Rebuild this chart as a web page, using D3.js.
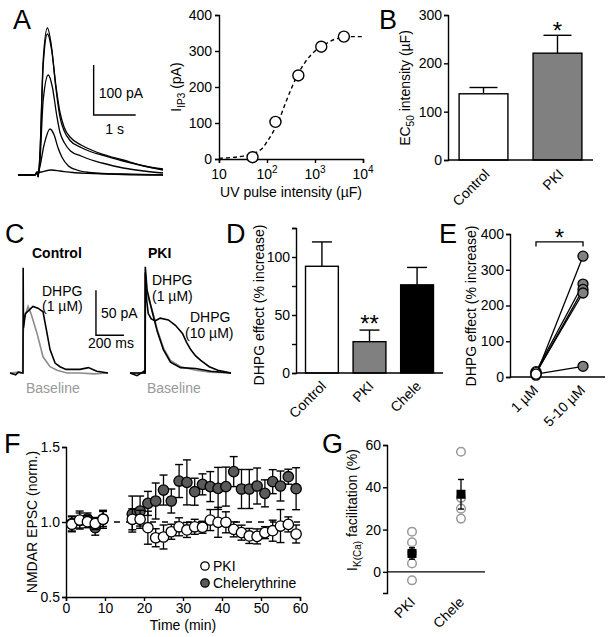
<!DOCTYPE html>
<html><head><meta charset="utf-8">
<script src="https://cdn.jsdelivr.net/npm/d3@7"></script>
<style>body{margin:0;background:#fff}</style>
</head><body><svg id="fig" width="612" height="637"></svg>
<script>
// ---------- DATA ----------
// Panel A: example IP3 currents [time s, current pA]
const traceA1 = [[0,0],[0.4,0],[0.45,6],[0.48,-4],[0.52,40],[0.6,230],[0.7,294],[0.8,255],[0.9,175],[1.0,115],[1.1,88],[1.25,68],[1.5,55],[1.75,46],[2.0,40],[2.5,28],[3.0,18],[3.45,10]];
const traceA2 = [[0,0],[0.4,0],[0.45,5],[0.48,-3],[0.52,35],[0.6,220],[0.7,282],[0.8,250],[0.9,180],[1.0,125],[1.1,95],[1.25,75],[1.5,60],[1.75,50],[2.0,42],[2.5,30],[3.0,18],[3.45,12]];
const traceA3 = [[0,0],[0.4,0],[0.45,5],[0.48,-3],[0.52,25],[0.6,150],[0.72,200],[0.82,175],[0.92,120],[1.0,85],[1.1,65],[1.25,48],[1.5,38],[1.75,30],[2.0,24],[2.5,14],[3.0,8],[3.45,4]];
const traceA4 = [[0,0],[0.4,0],[0.45,4],[0.5,10],[0.62,60],[0.76,92],[0.86,80],[0.95,55],[1.05,35],[1.2,18],[1.4,10],[1.7,5],[2.0,3],[2.5,2],[3.45,0]];
const traceA5 = [[0,0],[0.4,0],[0.45,4],[0.55,6],[0.8,10],[1.0,8],[1.3,5],[1.8,3],[2.5,1],[3.45,0]];
// Panel A: dose-response
const doseUV = [50,150,450,1350,4000];
const doseI = [5,103,232,312,340];
const fitUV = [10,18,32,56,80,100,130,180,250,320,450,630,1000,1600,2500,4000,6300,10000];
const fitI = [2,4,8,17,30,48,72,110,160,195,238,270,300,318,332,338,340,340];
// Panel B
const bCats = ["Control","PKI"];
const bMeans = [137,221];
const bErr = [13,37];
// Panel C traces [ms, pA]
const cCtrlBase = [[0,0],[60,1],[90,0],[93,40],[100,60],[129,74],[150,66],[193,44],[236,18],[286,7],[336,3],[407,0],[500,0],[600,-1],[700,0]];
const cCtrlDhpg = [[0,0],[40,-2],[60,1],[90,0],[93,0],[94,117],[96,50],[110,66],[164,74],[200,72],[236,68],[286,26],[322,11],[357,7],[400,4],[500,4],[560,6],[620,2],[700,0]];
const cPkiBase = [[0,0],[100,0],[107,0],[110,92],[157,70],[193,48],[236,28],[286,14],[357,7],[464,3],[571,1],[714,0]];
const cPkiD1 = [[0,0],[50,-3],[100,2],[107,0],[108,118],[121,92],[157,68],[193,46],[236,26],[286,12],[357,6],[464,5],[571,2],[714,0]];
const cPkiD10 = [[0,0],[100,0],[107,0],[108,112],[115,85],[129,66],[150,60],[179,58],[214,61],[271,59],[321,53],[371,44],[400,34],[429,26],[464,19],[500,14],[560,7],[621,3],[714,0]];
// Panel D
const dCats = ["Control","PKI","Chele"];
const dMeans = [92,27,76];
const dErr = [21,10,15];
// Panel E
const eCats = ["1 \u00b5M","5-10 \u00b5M"];
const eLow = [5,15,10,12,8];
const eHigh = [338,260,245,235,30];
// Panel F
const fTime = [1.5,3.5,5.5,7.5,9.5,17,19,21,23,25,27,29,31,33,35,37,39,41,43,45,47,49,51,53,55,57,59];
const pkiMean = [0.985,1.013,1.002,0.99,1.018,1.018,1.018,0.962,0.895,0.90,0.935,0.968,0.947,0.968,0.965,1.013,0.998,0.998,0.951,0.929,0.907,0.904,0.929,0.942,0.973,0.984,0.92];
const pkiErr = [0.05,0.06,0.04,0.04,0.06,0.07,0.06,0.11,0.06,0.08,0.05,0.06,0.05,0.05,0.04,0.07,0.1,0.07,0.05,0.05,0.05,0.05,0.04,0.07,0.11,0.05,0.06];
const cheMean = [0.99,1.01,1.02,0.962,1.02,1.053,1.073,1.124,1.14,1.213,1.14,1.273,1.264,1.202,1.251,1.236,1.224,1.236,1.336,1.22,1.22,1.24,1.191,1.269,1.24,1.302,1.222];
const cheErr = [0.05,0.05,0.04,0.05,0.05,0.12,0.1,0.08,0.12,0.1,0.08,0.11,0.15,0.09,0.07,0.1,0.14,0.13,0.1,0.13,0.13,0.12,0.09,0.08,0.1,0.05,0.14];
// Panel G
const gCats = ["PKI","Chele"];
const gPKI = [19,14,9,4,-4];
const gChele = [56.8,35,29.9,25.2];
const gMean = [8.7,36.7];
const gErr = [2.7,7];

// ---------- DRAW ----------
const svg = d3.select("#fig");
const FF = '"Liberation Sans", Arial, Helvetica, sans-serif';
const FS = 14, SW = 1.4;
svg.attr("font-family", FF);

function styleAxis(g){
  g.attr("font-family", FF).attr("font-size", FS);
  g.selectAll(".domain").attr("stroke","#000").attr("stroke-width",SW);
  g.selectAll(".tick line").attr("stroke","#000").attr("stroke-width",SW);
  g.selectAll(".tick text").attr("fill","#000");
  return g;
}
function panelLabel(t,x,y){ svg.append("text").attr("x",x).attr("y",y).attr("font-size",27).text(t); }
function txt(t,x,y,opts={}){
  const e = svg.append("text").attr("x",x).attr("y",y).attr("font-size",opts.fs||FS).attr("fill",opts.fill||"#000").text(t);
  if(opts.anchor) e.attr("text-anchor",opts.anchor);
  if(opts.bold) e.attr("font-weight","bold");
  return e;
}
function rotLabel(t,x,y){
  svg.append("text").attr("transform",`translate(${x},${y}) rotate(-45)`).attr("text-anchor","end").attr("font-size",FS).text(t);
}
function yTitle(parts,x,y){
  const e = svg.append("text").attr("transform",`translate(${x},${y}) rotate(-90)`).attr("text-anchor","middle").attr("font-size",FS);
  parts.forEach(p=>{
    const ts = e.append("tspan").text(p.t);
    if(p.sub){ ts.attr("font-size",10).attr("dy",4); }
    else if(p.after){ ts.attr("dy",-4); }
  });
  return e;
}
function hline(x1,x2,y){ svg.append("line").attr("x1",x1).attr("x2",x2).attr("y1",y).attr("y2",y).attr("stroke","#000").attr("stroke-width",SW); }

// ===== Panel A traces =====
panelLabel("A",13,29);
const xA = d3.scaleLinear().domain([0,3.45]).range([18,163]);
const yA = d3.scaleLinear().domain([0,100]).range([175,125]);
const lineA = d3.line().x(d=>xA(d[0])).y(d=>yA(d[1])).curve(d3.curveMonotoneX);
[traceA5,traceA4,traceA3,traceA2,traceA1].forEach(tr=>{
  svg.append("path").attr("d",lineA(tr)).attr("fill","none").attr("stroke","#000").attr("stroke-width",1.3);
});
// scale bar
svg.append("path").attr("d",`M${xA(1.8)},${yA(220)}V${yA(120)}H${xA(2.8)}`).attr("fill","none").attr("stroke","#000").attr("stroke-width",SW);
txt("100 pA", xA(1.8)+5, yA(165)+5);
txt("1 s", xA(2.3), yA(120)+19, {anchor:"middle"});

// ===== Panel A dose-response =====
const xD = d3.scaleLog().domain([10,1e4]).range([219,363]);
const yD = d3.scaleLinear().domain([0,400]).range([159,15]);
styleAxis(svg.append("g").attr("transform","translate(0,159)")
  .call(d3.axisBottom(xD).tickValues([10,100,1000,10000]).tickFormat("").tickSizeOuter(0).tickSize(4)));
styleAxis(svg.append("g").attr("transform","translate(219,0)")
  .call(d3.axisLeft(yD).tickValues([0,100,200,300,400]).tickSizeOuter(0).tickSize(4).tickPadding(3)));
[10,100,1000,10000].forEach(v=>{
  const e = svg.append("text").attr("x",xD(v)).attr("y",179).attr("text-anchor","middle").attr("font-size",FS);
  if(v===10){ e.text("10"); }
  else { e.append("tspan").text("10"); e.append("tspan").attr("font-size",10).attr("dy",-6).text(String(Math.round(Math.log10(v)))); }
});
const fitLine = d3.line().x((d,i)=>xD(fitUV[i])).y((d,i)=>yD(fitI[i])).curve(d3.curveMonotoneX);
svg.append("path").attr("d",fitLine(fitUV)).attr("fill","none").attr("stroke","#000").attr("stroke-width",1.4).attr("stroke-dasharray","4,3");
svg.selectAll(".dpt").data(doseUV).enter().append("circle")
  .attr("cx",d=>xD(d)).attr("cy",(d,i)=>yD(doseI[i])).attr("r",5.5)
  .attr("fill","#fff").attr("stroke","#000").attr("stroke-width",1.4);
txt("UV pulse intensity (\u00b5F)", 291, 197, {anchor:"middle"});
yTitle([{t:"I"},{t:"IP3",sub:true},{t:" (pA)",after:true}], 181, 87);

// ===== Panel B =====
panelLabel("B",379,29);
const xB = d3.scaleBand().domain(bCats).range([448,593]).paddingInner(0.34).paddingOuter(0.15);
const yB = d3.scaleLinear().domain([0,300]).range([160,15]);
styleAxis(svg.append("g").attr("transform","translate(448,0)")
  .call(d3.axisLeft(yB).tickValues([0,100,200,300]).tickSizeOuter(0).tickSize(4).tickPadding(2)));
const bFill = ["#fff","#808080"];
bCats.forEach((c,i)=>{
  const cx = xB(c)+xB.bandwidth()/2;
  svg.append("line").attr("x1",cx).attr("x2",cx).attr("y1",yB(bMeans[i])).attr("y2",yB(bMeans[i]+bErr[i])).attr("stroke","#000").attr("stroke-width",SW);
  hline(cx-14,cx+14,yB(bMeans[i]+bErr[i]));
  svg.append("rect").attr("x",xB(c)).attr("y",yB(bMeans[i])).attr("width",xB.bandwidth()).attr("height",yB(0)-yB(bMeans[i]))
    .attr("fill",bFill[i]).attr("stroke","#000").attr("stroke-width",SW);
  rotLabel(c, cx+7, 175);
});
hline(448,593,160);
txt("*", xB("PKI")+xB.bandwidth()/2, 39, {anchor:"middle", fs:24});
yTitle([{t:"EC"},{t:"50",sub:true},{t:" intensity (\u00b5F)",after:true}], 410, 88);

// ===== Panel C =====
panelLabel("C",5,243);
txt("Control",32,258,{bold:true});
txt("PKI",148,258,{bold:true});
const yC = d3.scaleLinear().domain([0,100]).range([373,283]);
const xC1 = d3.scaleLinear().domain([0,700]).range([10,108]);
const xC2 = d3.scaleLinear().domain([0,714]).range([130,231]);
const lineC1 = d3.line().x(d=>xC1(d[0])).y(d=>yC(d[1]));
const lineC2 = d3.line().x(d=>xC2(d[0])).y(d=>yC(d[1]));
svg.append("path").attr("d",lineC1(cCtrlBase)).attr("fill","none").attr("stroke","#8c8c8c").attr("stroke-width",1.6);
svg.append("path").attr("d",lineC1(cCtrlDhpg)).attr("fill","none").attr("stroke","#000").attr("stroke-width",1.6);
svg.append("path").attr("d",lineC2(cPkiBase)).attr("fill","none").attr("stroke","#8c8c8c").attr("stroke-width",1.6);
svg.append("path").attr("d",lineC2(cPkiD1)).attr("fill","none").attr("stroke","#000").attr("stroke-width",1.6);
svg.append("path").attr("d",lineC2(cPkiD10)).attr("fill","none").attr("stroke","#000").attr("stroke-width",1.6);
svg.append("path").attr("d",`M${xC1(614)},${yC(92)}V${yC(42)}H${xC1(814)}`).attr("fill","none").attr("stroke","#000").attr("stroke-width",SW);
txt("50 pA",101,318);
txt("200 ms",88,348);
txt("DHPG",42,296); txt("(1 \u00b5M)",42,311);
txt("Baseline",26,393,{fill:"#999"});
txt("DHPG",152,285); txt("(1 \u00b5M)",152,301);
txt("DHPG",190,322); txt("(10 \u00b5M)",185,338);
txt("Baseline",147,393,{fill:"#999"});

// ===== Panel D =====
panelLabel("D",226,243);
const xDb = d3.scaleBand().domain(dCats).range([296,443]).paddingInner(0.31).paddingOuter(0.2);
const yDb = d3.scaleLinear().domain([0,125]).range([373,228]);
styleAxis(svg.append("g").attr("transform","translate(296,0)")
  .call(d3.axisLeft(yDb).tickValues([0,25,50,75,100,125]).tickFormat(d=>d%50===0?d:"").tickSizeOuter(0).tickSize(4).tickPadding(2)));
const dFill = ["#fff","#808080","#000"];
dCats.forEach((c,i)=>{
  const cx = xDb(c)+xDb.bandwidth()/2;
  svg.append("line").attr("x1",cx).attr("x2",cx).attr("y1",yDb(dMeans[i])).attr("y2",yDb(dMeans[i]+dErr[i])).attr("stroke","#000").attr("stroke-width",SW);
  hline(cx-10,cx+10,yDb(dMeans[i]+dErr[i]));
  svg.append("rect").attr("x",xDb(c)).attr("y",yDb(dMeans[i])).attr("width",xDb.bandwidth()).attr("height",yDb(0)-yDb(dMeans[i]))
    .attr("fill",dFill[i]).attr("stroke","#000").attr("stroke-width",SW);
  rotLabel(c, cx+5, 387);
});
hline(296,443,373);
txt("**", xDb("PKI")+xDb.bandwidth()/2, 332, {anchor:"middle", fs:24});
yTitle([{t:"DHPG effect (% increase)"}], 264, 305);

// ===== Panel E =====
panelLabel("E",439,243);
const xE = d3.scalePoint().domain(eCats).range([536,583]);
const yE = d3.scaleLinear().domain([0,400]).range([377,234]);
styleAxis(svg.append("g").attr("transform","translate(510,0)")
  .call(d3.axisLeft(yE).tickValues([0,100,200,300,400]).tickSizeOuter(0).tickSize(4).tickPadding(2)));
hline(510,605,377);
eLow.forEach((v,i)=>{
  svg.append("line").attr("x1",xE(eCats[0])).attr("y1",yE(v)).attr("x2",xE(eCats[1])).attr("y2",yE(eHigh[i])).attr("stroke","#000").attr("stroke-width",1.3);
});
eLow.forEach(v=>svg.append("circle").attr("cx",xE(eCats[0])).attr("cy",yE(v)).attr("r",5).attr("fill","#fff").attr("stroke","#000").attr("stroke-width",1.3));
eHigh.forEach(v=>svg.append("circle").attr("cx",xE(eCats[1])).attr("cy",yE(v)).attr("r",5).attr("fill","#808080").attr("stroke","#000").attr("stroke-width",1.3));
svg.append("path").attr("d",`M${xE(eCats[0])},${yE(365)}V${yE(378)}H${xE(eCats[1])}V${yE(365)}`).attr("fill","none").attr("stroke","#000").attr("stroke-width",1.3);
txt("*", (xE(eCats[0])+xE(eCats[1]))/2, 246, {anchor:"middle", fs:24});
eCats.forEach(c=>rotLabel(c, xE(c)+3, 391));
yTitle([{t:"DHPG effect (% increase)"}], 476, 306);

// ===== Panel F =====
panelLabel("F",4,453);
const xF = d3.scaleLinear().domain([0,60]).range([66,300]);
const yF = d3.scaleLinear().domain([0.5,1.5]).range([597,447]);
styleAxis(svg.append("g").attr("transform","translate(0,597)")
  .call(d3.axisBottom(xF).tickValues([0,10,20,30,40,50,60]).tickSizeOuter(0).tickSize(4).tickPadding(2)));
styleAxis(svg.append("g").attr("transform","translate(66,0)")
  .call(d3.axisLeft(yF).tickValues([0.5,1.0,1.5]).tickFormat(d3.format(".1f")).tickSizeOuter(0).tickSize(4).tickPadding(2)));
svg.append("line").attr("x1",xF(0)).attr("x2",xF(60)).attr("y1",yF(1)).attr("y2",yF(1)).attr("stroke","#000").attr("stroke-width",1.3).attr("stroke-dasharray","6,6");
function fSeries(means, errs, fill){
  fTime.forEach((t,i)=>{
    const x = xF(t), y1 = yF(means[i]-errs[i]), y2 = yF(means[i]+errs[i]);
    svg.append("line").attr("x1",x).attr("x2",x).attr("y1",y1).attr("y2",y2).attr("stroke","#000").attr("stroke-width",1.3);
    hline(x-4,x+4,y1); hline(x-4,x+4,y2);
  });
  fTime.forEach((t,i)=>{
    svg.append("circle").attr("cx",xF(t)).attr("cy",yF(means[i])).attr("r",5.2).attr("fill",fill).attr("stroke","#000").attr("stroke-width",1.3);
  });
}
fSeries(cheMean, cheErr, "#5a5a5a");
fSeries(pkiMean, pkiErr, "#fff");
svg.append("circle").attr("cx",205).attr("cy",566).attr("r",4.2).attr("fill","#fff").attr("stroke","#000").attr("stroke-width",1.3);
svg.append("circle").attr("cx",205).attr("cy",583).attr("r",4.2).attr("fill","#5a5a5a").attr("stroke","#000").attr("stroke-width",1.3);
txt("PKI",213,571);
txt("Chelerythrine",213,588);
txt("Time (min)",183,630,{anchor:"middle"});
yTitle([{t:"NMDAR EPSC (norm.)"}], 37, 522);

// ===== Panel G =====
panelLabel("G",322,453);
const xG = d3.scalePoint().domain(gCats).range([412,461]);
const yG = d3.scaleLinear().domain([-10,60]).range([593,445]);
styleAxis(svg.append("g").attr("transform","translate(387,0)")
  .call(d3.axisLeft(yG).tickValues([0,20,40,60]).tickSizeOuter(0).tickSize(4).tickPadding(2)));
svg.append("line").attr("x1",387).attr("x2",485).attr("y1",yG(0)).attr("y2",yG(0)).attr("stroke","#000").attr("stroke-width",SW);
gPKI.forEach(v=>svg.append("circle").attr("cx",xG("PKI")).attr("cy",yG(v)).attr("r",4.3).attr("fill","none").attr("stroke","#999").attr("stroke-width",1.5));
gChele.forEach(v=>svg.append("circle").attr("cx",xG("Chele")).attr("cy",yG(v)).attr("r",4.3).attr("fill","none").attr("stroke","#999").attr("stroke-width",1.5));
gCats.forEach((c,i)=>{
  const x = xG(c), y1 = yG(gMean[i]-gErr[i]), y2 = yG(gMean[i]+gErr[i]);
  svg.append("line").attr("x1",x).attr("x2",x).attr("y1",y1).attr("y2",y2).attr("stroke","#000").attr("stroke-width",1.3);
  hline(x-3,x+3,y1); hline(x-3,x+3,y2);
  svg.append("rect").attr("x",x-4.5).attr("y",yG(gMean[i])-4.5).attr("width",9).attr("height",9).attr("fill","#000");
  rotLabel(c, x+4, 603);
});
yTitle([{t:"I"},{t:"K(Ca)",sub:true},{t:" facilitation (%)",after:true}], 357, 510);
</script>
</body></html>
